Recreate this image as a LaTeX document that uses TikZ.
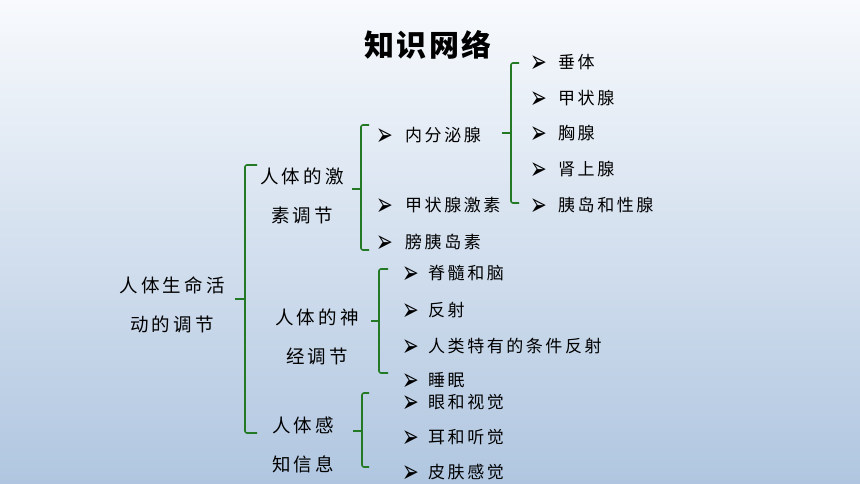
\documentclass[tikz,border=0pt]{standalone}
\usepackage{fontspec}
\newfontfamily\cjklevel[LetterSpace=17]{Noto Sans CJK SC}
\newfontfamily\cjkitem[LetterSpace=15]{Noto Sans CJK SC}
\newfontfamily\cjktitle[LetterSpace=8]{Noto Sans CJK SC}
\newfontfamily\dejavu{DejaVu Sans}
\definecolor{bgtop}{RGB}{248,250,253}
\definecolor{bgbot}{RGB}{176,198,224}
\definecolor{bracegreen}{RGB}{36,122,36}
\newcommand\arrowhd{\scalebox{0.95}[1.5]{➢}}
\tikzset{
  lvl/.style={font=\cjklevel\fontsize{18.5}{39}\selectfont, align=center, inner sep=0pt, text=black},
  itemtext/.style={font=\cjkitem\fontsize{17}{17}\selectfont, anchor=west, inner sep=0pt, text=black},
  bul/.style={font=\dejavu\fontsize{21}{21}\selectfont, inner sep=0pt, text=black, yshift=-2.5pt},
  brace/.style={draw=bracegreen, line width=1.6pt, rounded corners=2pt},
  ttl/.style={font=\cjktitle\bfseries\fontsize{30}{30}\selectfont, inner sep=0pt}
}
\begin{document}
\begin{tikzpicture}[x=1pt,y=-1pt]
\useasboundingbox (0,0) rectangle (860,484);
\shade[top color=bgtop, bottom color=bgbot] (0,0) rectangle (860,484);

% title
\node[ttl] (title) at (428,45) {知识网络};

% level nodes
\node[lvl] (root) at (172,304.5) {人体生命活\\动的调节};
\node[lvl] (hor) at (302,196) {人体的激\\素调节};
\node[lvl] (ner) at (317,336.5) {人体的神\\经调节};
\node[lvl] (sen) at (303,445) {人体感\\知信息};

% brace coordinates
\coordinate (b1) at (245,299);
\coordinate (b2) at (361,189);
\coordinate (b3) at (511,133);
\coordinate (b4) at (379,321);
\coordinate (b5) at (362,431);

% braces
\draw[brace] (257,165) -- (245,165) -- (245,433) -- (257,433);
\draw[brace] (b1) -- ++(-10,0);
\draw[brace] (369,125) -- (361,125) -- (361,250) -- (369,250);
\draw[brace] (b2) -- ++(-9,0);
\draw[brace] (519,63) -- (511,63) -- (511,203) -- (519,203);
\draw[brace] (b3) -- ++(-9,0);
\draw[brace] (388,269) -- (379,269) -- (379,373) -- (388,373);
\draw[brace] (b4) -- ++(-8,0);
\draw[brace] (369,393) -- (362,393) -- (362,467) -- (369,467);
\draw[brace] (b5) -- ++(-9,0);

% hormone items
\node[bul] (a1) at (385,135) {\arrowhd};
\node[itemtext] (i1) at (405,135) {内分泌腺};
\node[bul] (a2) at (385,205) {\arrowhd};
\node[itemtext] (i2) at (405,205) {甲状腺激素};
\node[bul] (a3) at (385,242) {\arrowhd};
\node[itemtext] (i3) at (405,242) {膀胰岛素};

% gland items
\node[bul] (g1a) at (539,62) {\arrowhd};
\node[itemtext] (g1) at (558,62) {垂体};
\node[bul] (g2a) at (539,98) {\arrowhd};
\node[itemtext] (g2) at (558,98) {甲状腺};
\node[bul] (g3a) at (539,133) {\arrowhd};
\node[itemtext] (g3) at (558,133) {胸腺};
\node[bul] (g4a) at (539,169) {\arrowhd};
\node[itemtext] (g4) at (558,169) {肾上腺};
\node[bul] (g5a) at (539,205) {\arrowhd};
\node[itemtext] (g5) at (558,205) {胰岛和性腺};

% nerve items
\node[bul] (n1a) at (411,273) {\arrowhd};
\node[itemtext] (n1) at (428,273) {脊髓和脑};
\node[bul] (n2a) at (411,310) {\arrowhd};
\node[itemtext] (n2) at (428,310) {反射};
\node[bul] (n3a) at (411,346) {\arrowhd};
\node[itemtext] (n3) at (428,346) {人类特有的条件反射};
\node[bul] (n4a) at (411,380) {\arrowhd};
\node[itemtext] (n4) at (428,380) {睡眠};

% sense items
\node[bul] (s1a) at (411,402) {\arrowhd};
\node[itemtext] (s1) at (428,402) {眼和视觉};
\node[bul] (s2a) at (411,437) {\arrowhd};
\node[itemtext] (s2) at (428,437) {耳和听觉};
\node[bul] (s3a) at (411,472) {\arrowhd};
\node[itemtext] (s3) at (428,472) {皮肤感觉};
\end{tikzpicture}
\end{document}
